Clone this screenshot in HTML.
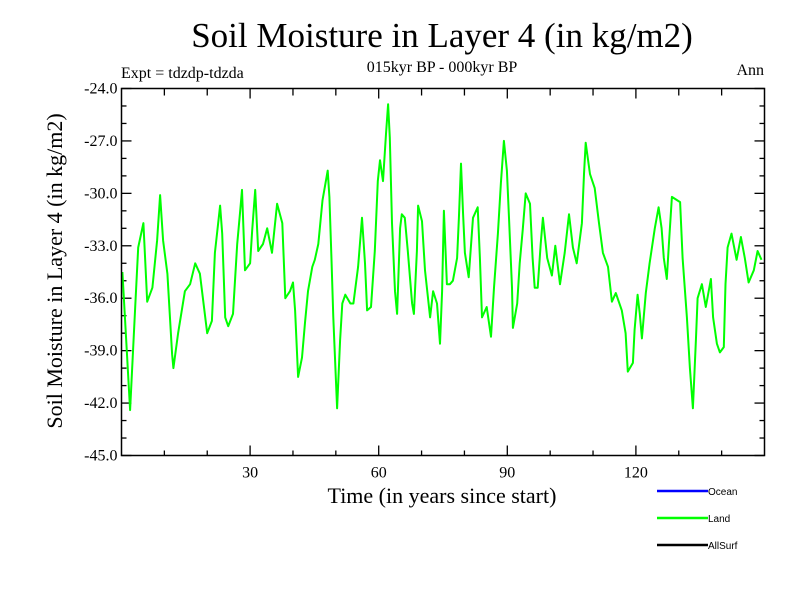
<!DOCTYPE html>
<html><head><meta charset="utf-8"><style>
body{margin:0;background:#fff;}
svg{display:block;}
.serif{font-family:"Liberation Serif",serif;}
.sans{font-family:"Liberation Sans",sans-serif;}
</style></head><body>
<svg id="chart" width="800" height="600" viewBox="0 0 800 600">
<rect width="800" height="600" fill="#fff"/>
<text x="442" y="47" text-anchor="middle" class="serif" font-size="35">Soil Moisture in Layer 4 (in kg/m2)</text>
<text x="442" y="72" text-anchor="middle" class="serif" font-size="16">015kyr BP - 000kyr BP</text>
<text x="121" y="78" class="serif" font-size="16">Expt = tdzdp-tdzda</text>
<text x="764" y="75" text-anchor="end" class="serif" font-size="16">Ann</text>
<g id="axes"></g>
<polyline id="land-line" fill="none" stroke="#00ff00" stroke-width="2" stroke-linejoin="round"/>
<rect x="121.5" y="88.5" width="643" height="367" fill="none" stroke="#000" stroke-width="1.5"/>
<text x="442" y="503" text-anchor="middle" class="serif" font-size="22">Time (in years since start)</text>
<text transform="translate(62,271) rotate(-90)" text-anchor="middle" class="serif" font-size="22">Soil Moisture in Layer 4 (in kg/m2)</text>
<g>
<g><line x1="657" y1="491" x2="708" y2="491" stroke="#0000ff" stroke-width="2.5"/><text x="708" y="495" class="sans" font-size="10">Ocean</text></g>
<g><line x1="657" y1="518" x2="708" y2="518" stroke="#00ff00" stroke-width="2.5"/><text x="708" y="522" class="sans" font-size="10">Land</text></g>
<g><line x1="657" y1="545" x2="708" y2="545" stroke="#000" stroke-width="2.5"/><text x="708" y="549" class="sans" font-size="10">AllSurf</text></g>
</g>
</svg>
<script>
const years=[0.2,2.0,3.2,3.9,5.1,6.0,7.2,8.3,9.0,9.7,10.7,11.8,12.1,13.2,14.8,16.0,17.2,18.3,19.0,20.0,21.1,21.8,23.0,23.5,24.2,24.9,26.0,27.0,27.7,28.1,28.8,30.0,30.5,31.2,31.9,33.0,34.0,35.1,36.3,37.5,38.2,39.3,40.0,40.5,41.2,42.1,42.8,43.5,44.5,45.1,45.9,46.9,48.1,48.5,49.0,49.4,50.3,51.0,51.5,52.2,53.4,54.1,55.2,56.1,56.8,57.3,58.2,59.1,59.8,60.3,61.0,61.7,62.2,62.6,63.1,63.8,64.3,65.0,65.4,66.1,66.8,67.8,68.2,68.9,69.2,70.1,70.8,72.0,72.7,73.6,74.3,74.8,75.2,75.9,76.6,77.3,78.3,78.7,79.2,79.7,80.1,81.0,82.0,83.1,83.6,84.1,85.2,86.2,86.9,87.8,88.5,89.2,89.9,90.4,91.1,91.3,92.3,92.9,93.6,94.3,95.3,95.9,96.4,97.1,97.8,98.3,99.3,100.4,101.2,102.3,103.4,104.4,105.3,106.2,107.4,107.9,108.3,109.3,110.4,111.4,112.3,113.5,114.4,115.3,116.7,117.6,118.1,119.3,119.7,120.4,120.9,121.4,122.3,123.2,124.4,125.3,126.0,126.5,127.2,127.7,128.4,130.3,130.9,131.9,132.6,133.3,134.0,134.4,135.4,136.3,137.5,138.0,138.9,139.6,140.5,140.9,141.4,142.3,143.5,144.5,145.4,146.3,147.5,148.4,149.3];
const landValues=[-34.5,-42.4,-36.5,-33.1,-31.7,-36.2,-35.4,-32.7,-30.1,-32.7,-34.6,-39.2,-40,-38,-35.6,-35.2,-34,-34.6,-36,-38,-37.3,-33.4,-30.7,-32.3,-37.1,-37.6,-36.9,-32.9,-31,-29.8,-34.4,-34,-32.1,-29.8,-33.3,-32.9,-32,-33.4,-30.6,-31.7,-36,-35.6,-35.1,-36.7,-40.5,-39.4,-37.4,-35.6,-34.2,-33.8,-32.9,-30.4,-28.7,-30.2,-33.8,-37.1,-42.3,-38.4,-36.3,-35.8,-36.3,-36.3,-34.2,-31.4,-34,-36.7,-36.5,-33.3,-29.3,-28.1,-29.3,-26.6,-24.9,-26.8,-31.7,-35.6,-36.9,-32,-31.2,-31.4,-33.3,-36.3,-36.9,-33.3,-30.7,-31.6,-34.4,-37.1,-35.6,-36.3,-38.6,-35.6,-31,-35.2,-35.2,-35,-33.7,-31.4,-28.3,-31.2,-33.4,-34.8,-31.4,-30.8,-33.7,-37.1,-36.5,-38.2,-35.4,-32.3,-29.4,-27,-28.7,-31.4,-35.4,-37.7,-36.3,-34,-32.1,-30,-30.6,-33.7,-35.4,-35.4,-32.9,-31.4,-33.7,-34.7,-33,-35.2,-33.4,-31.2,-33.1,-34,-31.7,-28.9,-27.1,-28.9,-29.7,-31.7,-33.4,-34.2,-36.2,-35.7,-36.7,-38,-40.2,-39.7,-37.8,-35.8,-36.9,-38.3,-35.7,-34,-32,-30.8,-32,-33.7,-34.9,-32.9,-30.2,-30.5,-33.7,-37.1,-40,-42.3,-38.4,-36,-35.2,-36.5,-34.9,-37.1,-38.6,-39.1,-38.8,-35.2,-33.1,-32.3,-33.8,-32.5,-33.7,-35.1,-34.4,-33.3,-33.8];
const yTickValues=[-24,-27,-30,-33,-36,-39,-42,-45];
const yTickLabels=["-24.0","-27.0","-30.0","-33.0","-36.0","-39.0","-42.0","-45.0"];
const xTickValues=[30,60,90,120];
const xTickLabels=["30","60","90","120"];

const NS="http://www.w3.org/2000/svg";
const X0=121.5,X1=764.5,Y0=88.5,Y1=455.5;
const xMin=0,xMax=150,yMin=-45,yMax=-24;
const sx=v=>X0+(v-xMin)/(xMax-xMin)*(X1-X0);
const sy=v=>Y1-(v-yMin)/(yMax-yMin)*(Y1-Y0);
const axes=document.getElementById('axes');
function ln(x1,y1,x2,y2,name){const l=document.createElementNS(NS,'line');
l.setAttribute('x1',x1);l.setAttribute('y1',y1);l.setAttribute('x2',x2);l.setAttribute('y2',y2);
l.setAttribute('stroke','#000');l.setAttribute('stroke-width','1.3');


axes.appendChild(l);}
function tx(x,y,s,anchor,name){const t=document.createElementNS(NS,'text');
t.setAttribute('x',x);t.setAttribute('y',y);t.setAttribute('text-anchor',anchor);
t.setAttribute('class','serif');t.setAttribute('font-size','16');t.textContent=s;


axes.appendChild(t);}
for(let v=yMin;v<=yMax;v+=1){const y=sy(v);const major=yTickValues.includes(v);const L=major?10:5;
ln(X0,y,X0+L,y,'y-tick');ln(X1,y,X1-L,y,'y-tick-right');}
yTickValues.forEach((v,i)=>tx(X0-4,sy(v)+5,yTickLabels[i],'end','y-tick-label'));
for(let v=10;v<xMax;v+=10){const x=sx(v);const major=xTickValues.includes(v);const L=major?10:5;
ln(x,Y1,x,Y1-L,'x-tick');ln(x,Y0,x,Y0+(major?10:7),'x-tick-top');}
xTickValues.forEach((v,i)=>tx(sx(v),Y1+22,xTickLabels[i],'middle','x-tick-label'));
document.getElementById('land-line').setAttribute('points',years.map((yr,i)=>sx(yr).toFixed(1)+','+sy(landValues[i]).toFixed(1)).join(' '));
</script>
</body></html>
